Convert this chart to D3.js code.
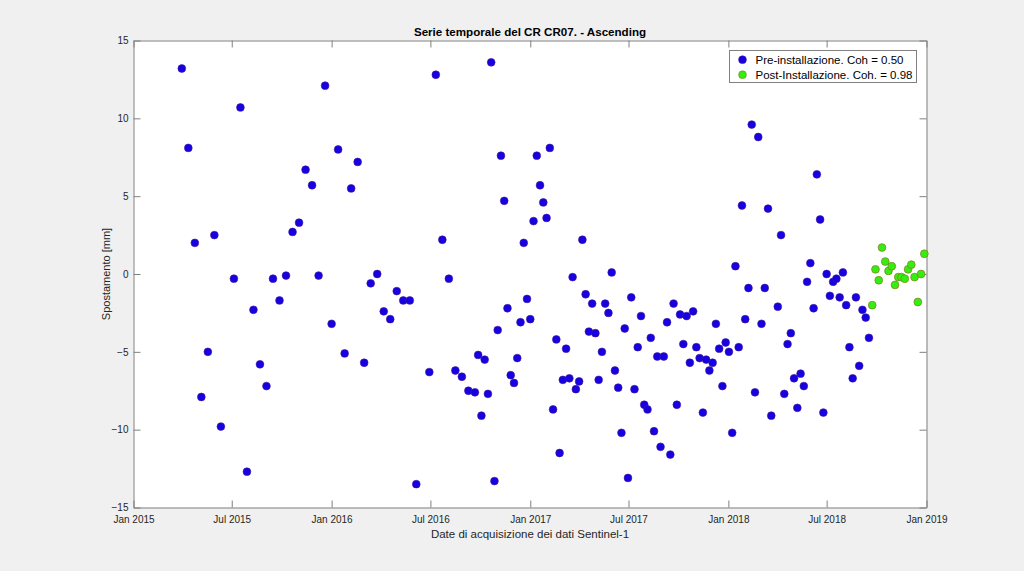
<!DOCTYPE html>
<html><head><meta charset="utf-8">
<script src="https://cdn.jsdelivr.net/npm/d3@7"></script>
<style>body{margin:0;background:#f0f0f0;} svg{display:block;font-family:"Liberation Sans",Arial,Helvetica,sans-serif;}</style>
</head><body><svg id="chart" width="1024" height="571"></svg>
<script>
// ---- data ----
const preDates = [
"2015-03-31","2015-04-12","2015-04-24","2015-05-06","2015-05-18","2015-05-30","2015-06-11",
"2015-07-05","2015-07-17","2015-07-29","2015-08-10","2015-08-22","2015-09-03","2015-09-15","2015-09-27",
"2015-10-09","2015-10-21","2015-11-02","2015-11-14","2015-11-26","2015-12-08","2015-12-20",
"2016-01-01","2016-01-13","2016-01-25","2016-02-06","2016-02-18","2016-03-01","2016-03-13","2016-03-25",
"2016-04-06","2016-04-18","2016-04-30","2016-05-12","2016-05-24","2016-06-05","2016-06-29",
"2016-07-11","2016-07-23","2016-08-04","2016-08-16","2016-08-28","2016-09-09","2016-09-21","2016-09-27",
"2016-10-03","2016-10-09","2016-10-15","2016-10-21","2016-10-27","2016-11-02","2016-11-08","2016-11-14",
"2016-11-20","2016-11-26","2016-12-02","2016-12-08","2016-12-14","2016-12-20","2016-12-26",
"2017-01-01","2017-01-07","2017-01-13","2017-01-19","2017-01-25","2017-01-31","2017-02-06","2017-02-12",
"2017-02-18","2017-02-24","2017-03-02","2017-03-08","2017-03-14","2017-03-20","2017-03-26","2017-04-01",
"2017-04-07","2017-04-13","2017-04-19","2017-04-25","2017-05-01","2017-05-07","2017-05-13","2017-05-19",
"2017-05-25","2017-05-31","2017-06-06","2017-06-12","2017-06-18","2017-06-24","2017-06-30","2017-07-06",
"2017-07-12","2017-07-18","2017-07-24","2017-07-30","2017-08-05","2017-08-11","2017-08-17","2017-08-23",
"2017-08-29","2017-09-04","2017-09-10","2017-09-16","2017-09-22","2017-09-28","2017-10-04","2017-10-10",
"2017-10-16","2017-10-22","2017-10-28","2017-11-03","2017-11-09","2017-11-15","2017-11-21","2017-11-27",
"2017-12-03","2017-12-09","2017-12-15","2017-12-21","2017-12-27",
"2018-01-02","2018-01-08","2018-01-14","2018-01-20","2018-01-26","2018-02-01","2018-02-07","2018-02-13",
"2018-02-19","2018-02-25","2018-03-03","2018-03-09","2018-03-15","2018-03-21","2018-04-02","2018-04-08",
"2018-04-14","2018-04-20","2018-04-26","2018-05-02","2018-05-08","2018-05-14","2018-05-20","2018-05-26",
"2018-06-01","2018-06-07","2018-06-13","2018-06-19","2018-06-25","2018-07-01","2018-07-07","2018-07-13",
"2018-07-19","2018-07-25","2018-07-31","2018-08-06","2018-08-12","2018-08-18","2018-08-24","2018-08-30",
"2018-09-05","2018-09-11","2018-09-17"
];
const preValues = [
13.2,8.1,2.0,-7.9,-5.0,2.5,-9.8,
-0.3,10.7,-12.7,-2.3,-5.8,-7.2,-0.3,-1.7,
-0.1,2.7,3.3,6.7,5.7,-0.1,12.1,
-3.2,8.0,-5.1,5.5,7.2,-5.7,-0.6,0.0,
-2.4,-2.9,-1.1,-1.7,-1.7,-13.5,-6.3,
12.8,2.2,-0.3,-6.2,-6.6,-7.5,-7.6,-5.2,
-9.1,-5.5,-7.7,13.6,-13.3,-3.6,7.6,4.7,
-2.2,-6.5,-7.0,-5.4,-3.1,2.0,-1.6,
-2.9,3.4,7.6,5.7,4.6,3.6,8.1,-8.7,
-4.2,-11.5,-6.8,-4.8,-6.7,-0.2,-7.4,-6.9,
2.2,-1.3,-3.7,-1.9,-3.8,-6.8,-5.0,-1.9,
-2.5,0.1,-6.2,-7.3,-10.2,-3.5,-13.1,-1.5,
-7.4,-4.7,-2.7,-8.4,-8.7,-4.1,-10.1,-5.3,
-11.1,-5.3,-3.1,-11.6,-1.9,-8.4,-2.6,-4.5,
-2.7,-5.7,-2.4,-4.7,-5.4,-8.9,-5.5,-6.2,
-5.7,-3.2,-4.8,-7.2,-4.4,
-5.0,-10.2,0.5,-4.7,4.4,-2.9,-0.9,9.6,
-7.6,8.8,-3.2,-0.9,4.2,-9.1,-2.1,2.5,
-7.7,-4.5,-3.8,-6.7,-8.6,-6.4,-7.2,-0.5,
0.7,-2.2,6.4,3.5,-8.9,0.0,-1.4,-0.5,
-0.3,-1.5,0.1,-2.0,-4.7,-6.7,-1.5,-5.9,
-2.3,-2.8,-4.1
];
const postDates = [
"2018-09-23","2018-09-29","2018-10-05","2018-10-11","2018-10-17","2018-10-23","2018-10-29",
"2018-11-04","2018-11-10","2018-11-16","2018-11-22","2018-11-28","2018-12-04","2018-12-10",
"2018-12-16","2018-12-22","2018-12-28"
];
const postValues = [
-2.0,0.3,-0.4,1.7,0.8,0.2,0.5,
-0.7,-0.2,-0.2,-0.3,0.3,0.6,-0.2,
-1.8,0.0,1.3
];
const xTickDates = ["2015-01-01","2015-07-01","2016-01-01","2016-07-01","2017-01-01","2017-07-01","2018-01-01","2018-07-01","2019-01-01"];
const xTickLabels = ["Jan 2015","Jul 2015","Jan 2016","Jul 2016","Jan 2017","Jul 2017","Jan 2018","Jul 2018","Jan 2019"];
const yTicks = [-15,-10,-5,0,5,10,15];
const legendLabels = ["Pre-installazione. Coh = 0.50","Post-Installazione. Coh. = 0.98"];
const titleText = "Serie temporale del CR CR07. - Ascending";
const xLabel = "Date di acquisizione dei dati Sentinel-1";
const yLabel = "Spostamento [mm]";

// ---- layout ----
const L = 133.5, R = 926.5, T = 40.5, B = 507.5;
const parse = d3.utcParse("%Y-%m-%d");
const svg = d3.select("#chart");
svg.append("rect").attr("width",1024).attr("height",571).attr("fill","#f0f0f0");
svg.append("rect").attr("x",L).attr("y",T).attr("width",R-L).attr("height",B-T).attr("fill","#ffffff");

const x = d3.scaleUtc().domain([parse("2015-01-01"), parse("2019-01-01")]).range([L, R]);
const y = d3.scaleLinear().domain([-15, 15]).range([B, T]);

const axisColor = "#808080", textColor = "#262626";
const tickDates = xTickDates.map(parse);
const fmt = (d) => xTickLabels[tickDates.findIndex(t => +t === +d)];

const gx = svg.append("g").attr("transform",`translate(0,${B})`)
  .call(d3.axisBottom(x).tickValues(tickDates).tickFormat(fmt).tickSizeInner(-7).tickSizeOuter(0).tickPadding(8));
const gxt = svg.append("g").attr("transform",`translate(0,${T})`)
  .call(d3.axisTop(x).tickValues(tickDates).tickFormat("").tickSizeInner(-7).tickSizeOuter(0));
const gy = svg.append("g").attr("transform",`translate(${L},0)`)
  .call(d3.axisLeft(y).tickValues(yTicks).tickSizeInner(-7).tickSizeOuter(0).tickPadding(5));
const gyr = svg.append("g").attr("transform",`translate(${R},0)`)
  .call(d3.axisRight(y).tickValues(yTicks).tickFormat("").tickSizeInner(-7).tickSizeOuter(0));
[gx,gxt,gy,gyr].forEach(g => {
  g.select(".domain").attr("stroke",axisColor);
  g.selectAll(".tick line").attr("stroke",axisColor);
  g.selectAll(".tick text").attr("fill",textColor).style("font-size","10px").style("font-family","'Liberation Sans',Arial,sans-serif");
});

// markers
const r = 3.9;
svg.append("g").selectAll("circle").data(preDates.map((d,i)=>({d:parse(d),v:preValues[i]})))
  .join("circle").attr("cx",p=>x(p.d)).attr("cy",p=>y(p.v)).attr("r",r)
  .attr("fill","#1400e0").attr("stroke","#4a1a9a").attr("stroke-width",0.6);
svg.append("g").selectAll("circle").data(postDates.map((d,i)=>({d:parse(d),v:postValues[i]})))
  .join("circle").attr("cx",p=>x(p.d)).attr("cy",p=>y(p.v)).attr("r",r)
  .attr("fill","#33ee11").attr("stroke","#8a7a20").attr("stroke-width",0.7);

// title & labels
svg.append("text").attr("x",(L+R)/2).attr("y",36).attr("text-anchor","middle")
  .style("font-size","11.6px").style("font-weight","bold").attr("fill","#000").text(titleText);
svg.append("text").attr("x",(L+R)/2).attr("y",537.5).attr("text-anchor","middle")
  .style("font-size","11.5px").attr("fill",textColor).text(xLabel);
svg.append("text").attr("transform",`translate(110,${(T+B)/2}) rotate(-90)`).attr("text-anchor","middle")
  .style("font-size","11px").attr("fill",textColor).text(yLabel);

// legend
const lg = svg.append("g");
lg.append("rect").attr("x",729.5).attr("y",50.5).attr("width",187).attr("height",32)
  .attr("fill","#fff").attr("stroke","#808080");
const legFill = ["#1400e0","#33ee11"], legStroke = ["#4a1a9a","#8a7a20"];
legendLabels.forEach((t,i) => {
  lg.append("circle").attr("cx",742.5).attr("cy",59.7+15*i).attr("r",r)
    .attr("fill",legFill[i]).attr("stroke",legStroke[i]).attr("stroke-width",0.6);
  lg.append("text").attr("x",755.5).attr("y",63.8+15*i).style("font-size","11.5px")
    .attr("fill","#000").text(t);
});
</script>
</body></html>
